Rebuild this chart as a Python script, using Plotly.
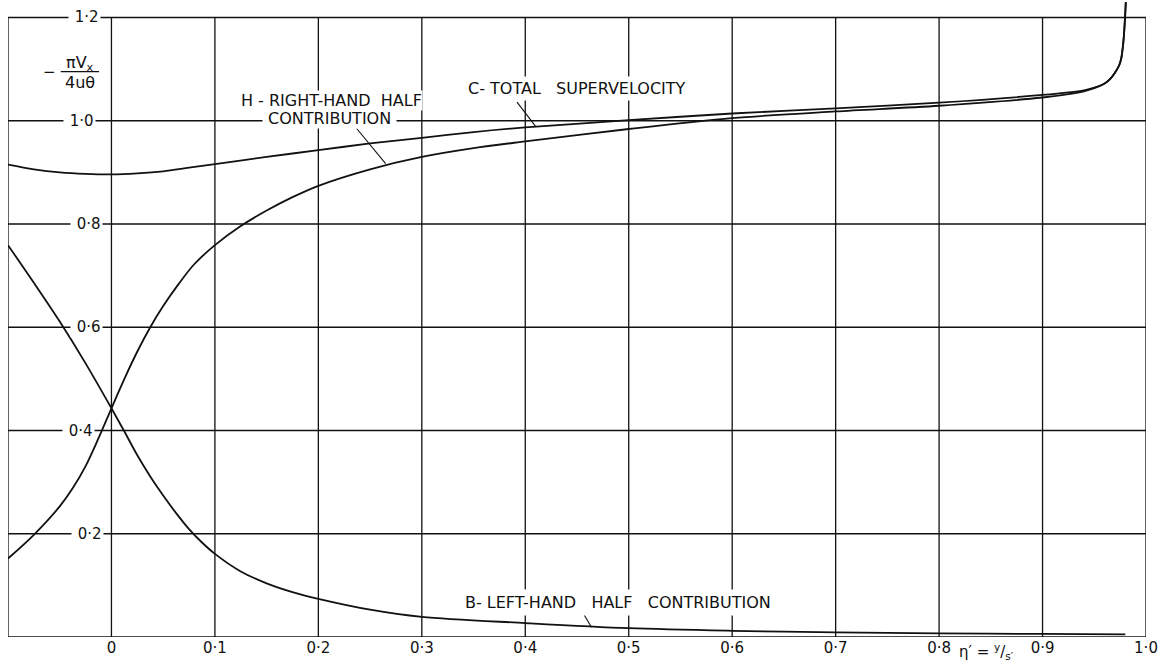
import plotly.graph_objects as go

# ---------------- data ----------------
x_C = [-0.1, -0.075, -0.05, -0.025, 0.0, 0.025, 0.05, 0.075, 0.1, 0.15, 0.2, 0.25,
       0.3, 0.35, 0.4, 0.5, 0.6, 0.7, 0.8, 0.9, 0.94, 0.95, 0.96, 0.965, 0.97, 0.974,
       0.976, 0.978, 0.979, 0.98, 0.9805]
y_C = [0.915, 0.906, 0.900, 0.897, 0.896, 0.898, 0.902, 0.909, 0.916, 0.930, 0.943,
       0.956, 0.967, 0.978, 0.987, 1.001, 1.014, 1.024, 1.035, 1.050, 1.059, 1.064,
       1.072, 1.080, 1.093, 1.107, 1.120, 1.150, 1.175, 1.210, 1.230]

x_H = [-0.1, -0.075, -0.05, -0.0375, -0.025, -0.0125, 0.0, 0.0125, 0.025, 0.0375,
       0.05, 0.065, 0.08, 0.1, 0.125, 0.15, 0.175, 0.2, 0.25, 0.3, 0.35, 0.4, 0.5,
       0.6, 0.7, 0.8, 0.9, 0.93, 0.94, 0.95, 0.96, 0.965, 0.97, 0.974, 0.976, 0.978,
       0.979, 0.98, 0.9805]
y_H = [0.152, 0.198, 0.253, 0.288, 0.331, 0.385, 0.443, 0.500, 0.553, 0.600,
       0.641, 0.684, 0.722, 0.759, 0.796, 0.826, 0.852, 0.874, 0.906, 0.930, 0.947,
       0.960, 0.984, 1.005, 1.018, 1.029, 1.045, 1.053, 1.057, 1.063, 1.072, 1.080,
       1.093, 1.107, 1.120, 1.150, 1.175, 1.210, 1.230]

x_B = [-0.1, -0.075, -0.05, -0.025, 0.0, 0.0125, 0.025, 0.0375, 0.05, 0.0625, 0.075,
       0.0875, 0.1, 0.125, 0.15, 0.175, 0.2, 0.25, 0.3, 0.4, 0.5, 0.6, 0.7, 0.8, 0.9,
       0.98]
y_B = [0.759, 0.686, 0.611, 0.530, 0.443, 0.398, 0.352, 0.311, 0.274, 0.240, 0.209,
       0.183, 0.161, 0.127, 0.104, 0.087, 0.074, 0.053, 0.039, 0.027, 0.017, 0.012,
       0.009, 0.007, 0.006, 0.005]

x_tick_vals = [0.0, 0.1, 0.2, 0.3, 0.4, 0.5, 0.6, 0.7, 0.8, 0.9, 1.0]
x_tick_text = ["0", "0·1", "0·2", "0·3", "0·4", "0·5", "0·6", "0·7", "0·8", "0·9", "1·0"]
y_tick_vals = [0.2, 0.4, 0.6, 0.8, 1.0, 1.2]
y_tick_text = ["0·2", "0·4", "0·6", "0·8", "1·0", "1·2"]

X_MIN, X_MAX = -0.1, 1.0
Y_MIN, Y_MAX = 0.0, 1.2

FONT = "DejaVu Sans"
INK = "#111111"

fig = go.Figure()
for xs, ys in [(x_C, y_C), (x_H, y_H), (x_B, y_B)]:
    fig.add_trace(go.Scatter(
        x=xs, y=ys, mode="lines",
        line=dict(color=INK, width=1.8, shape="spline", smoothing=0.9),
        hoverinfo="skip", showlegend=False))

shapes = []
# grid / frame
for xv in [X_MIN] + x_tick_vals:
    shapes.append(dict(type="line", xref="x", yref="y", x0=xv, x1=xv, y0=Y_MIN, y1=Y_MAX,
                       line=dict(color=INK, width=1.3), layer="below"))
for yv in [Y_MIN] + y_tick_vals:
    shapes.append(dict(type="line", xref="x", yref="y", x0=X_MIN, x1=X_MAX, y0=yv, y1=yv,
                       line=dict(color=INK, width=1.3), layer="below"))

# leader lines
leaders = [((0.392, 1.036), (0.410, 0.989)),
           ((0.237, 0.985), (0.265, 0.917)),
           ((0.456, 0.046), (0.464, 0.019))]
for (a, b) in leaders:
    shapes.append(dict(type="line", xref="x", yref="y", x0=a[0], y0=a[1], x1=b[0], y1=b[1],
                       line=dict(color=INK, width=1.1)))

# fraction bar of axis label
shapes.append(dict(type="line", xref="x", yref="y", x0=-0.049, x1=-0.012, y0=1.095, y1=1.095,
                   line=dict(color=INK, width=1.3)))

# y tick labels sit inside the frame, interrupting the grid lines (hand-lettered offsets)
label_right = {"0·2": -0.0068, "0·4": -0.0155, "0·6": -0.0077, "0·8": -0.0077,
               "1·0": -0.0150, "1·2": -0.0097}
annotations = []
for v, t in zip(y_tick_vals, y_tick_text):
    annotations.append(dict(x=label_right[t], y=v, xref="x", yref="y", text=f"\u00a0{t}",
                            showarrow=False, xanchor="right", yanchor="middle",
                            bgcolor="white", borderpad=1,
                            font=dict(family=FONT, size=15, color=INK)))

NB = "\u00a0"
lab_font = dict(family=FONT, size=16, color=INK)
annotations += [
    dict(x=0.342, y=1.063, xref="x", yref="y", xanchor="left", yanchor="middle",
         text=f"C-{NB}TOTAL{NB*3}SUPERVELOCITY", showarrow=False, bgcolor="white",
         borderpad=2, font=lab_font),
    dict(x=0.211, y=1.004, xref="x", yref="y", xanchor="center", yanchor="middle",
         text=f"{NB}CONTRIBUTION{NB}", showarrow=False, bgcolor="white", borderpad=0,
         font=lab_font),
    dict(x=0.213, y=1.040, xref="x", yref="y", xanchor="center", yanchor="middle",
         text=f"H{NB}-{NB}RIGHT-HAND{NB*2}HALF", showarrow=False, bgcolor="white",
         borderpad=0, font=lab_font),
    dict(x=0.338, y=0.066, xref="x", yref="y", xanchor="left", yanchor="middle",
         text=f"B-{NB}LEFT-HAND{NB*3}HALF{NB*3}CONTRIBUTION", showarrow=False,
         bgcolor="white", borderpad=3, font=lab_font),
    # y axis label (fraction)
    dict(x=-0.030, y=1.111, xref="x", yref="y", xanchor="center", yanchor="middle",
         text="πV<sub>x</sub>", showarrow=False, font=dict(family=FONT, size=16, color=INK)),
    dict(x=-0.030, y=1.075, xref="x", yref="y", xanchor="center", yanchor="middle",
         text="4uθ", showarrow=False, font=dict(family=FONT, size=16, color=INK)),
    dict(x=-0.060, y=1.095, xref="x", yref="y", xanchor="center", yanchor="middle",
         text="−", showarrow=False, font=dict(family=FONT, size=15, color=INK)),
    # x axis label
    dict(x=0.846, y=-0.023, xref="x", yref="paper", xanchor="center", yanchor="middle",
         text="η′ = <sup>y</sup>/<sub>s′</sub>", showarrow=False,
         font=dict(family=FONT, size=15, color=INK)),
]

fig.update_layout(
    width=1173, height=666,
    margin=dict(l=8, r=27, t=2, b=29),
    paper_bgcolor="white", plot_bgcolor="white",
    shapes=shapes, annotations=annotations,
    xaxis=dict(range=[X_MIN, X_MAX], showgrid=False, zeroline=False, showline=False,
               tickvals=x_tick_vals, ticktext=x_tick_text, ticks="",
               tickfont=dict(family=FONT, size=15, color=INK), fixedrange=True),
    yaxis=dict(range=[0, 1.23], showgrid=False, zeroline=False, showline=False,
               showticklabels=False, fixedrange=True),
)

fig.write_html("out.html")
